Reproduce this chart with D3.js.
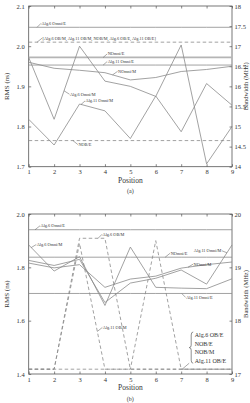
<!DOCTYPE html>
<html lang="en">
<head>
<meta charset="UTF-8">
<title>RMS and bandwidth by position</title>
<script src="https://d3js.org/d3.v7.min.js"></script>
<style>
  html, body { margin: 0; padding: 0; background: #fff; }
  svg { display: block; font-family: "Liberation Serif", "DejaVu Serif", serif; }
  .tick text { fill: #333; }
</style>
</head>
<body>
<div id="chart"></div>
<script>
// x axis
const positions = [1, 2, 3, 4, 5, 6, 7, 8, 9];

// panel (a), values in RMS (ns)
const aAlg6OmniE  = [2.047, 2.047, 2.047, 2.047, 2.047, 2.047, 2.047, 2.047, 2.047];
const aObGroup    = [2.010, 2.010, 2.010, 2.010, 2.010, 2.010, 2.010, 2.010, 2.010];
const aNOmniE     = [1.972, 1.972, 1.972, 1.972, 1.972, 1.972, 1.972, 1.972, 1.972];
const aAlg11OmniE = [1.953, 1.953, 1.953, 1.953, 1.953, 1.953, 1.953, 1.953, 1.953];
const aNOmniM     = [1.960, 1.945, 1.940, 1.934, 1.916, 1.922, 1.937, 1.942, 1.950];
const aAlg6OmniM  = [1.972, 1.818, 2.000, 1.913, 1.900, 1.875, 2.003, 1.707, 1.800];
const aAlg11OmniM = [1.818, 1.754, 1.856, 1.839, 1.770, 1.876, 1.787, 1.907, 1.853];
const aNOBE       = [1.765, 1.765, 1.765, 1.765, 1.765, 1.765, 1.765, 1.765, 1.765];

// panel (b), values in RMS (ns)
const bAlg6OmniE  = [1.941, 1.941, 1.941, 1.941, 1.941, 1.941, 1.941, 1.941, 1.941];
const bNOmniE     = [1.838, 1.838, 1.838, 1.838, 1.838, 1.838, 1.838, 1.838, 1.838];
const bAlg11OmniE = [1.702, 1.702, 1.702, 1.702, 1.702, 1.702, 1.702, 1.702, 1.702];
const bObGroup    = [1.418, 1.418, 1.418, 1.418, 1.418, 1.418, 1.418, 1.418, 1.418];
const bAlg6OBM    = [1.418, 1.418, 1.909, 1.909, 1.418, 1.418, 1.418, 1.418, 1.418];
const bAlg11OBM   = [1.418, 1.418, 1.890, 1.418, 1.418, 1.900, 1.418, 1.418, 1.418];
const bAlg6OmniM  = [1.884, 1.786, 1.840, 1.657, 1.876, 1.725, 1.722, 1.720, 1.757];
const bAlg11OmniM = [1.826, 1.807, 1.830, 1.668, 1.741, 1.759, 1.790, 1.737, 1.884];
const bNOmniM     = [1.816, 1.798, 1.810, 1.725, 1.756, 1.767, 1.797, 1.810, 1.820];

// tick values
const aLeftTicks  = [1.7, 1.8, 1.9, 2.0, 2.1];
const aRightTicks = [14, 14.5, 15, 15.5, 16, 16.5, 17, 17.5, 18];
const bLeftTicks  = [1.4, 1.6, 1.8, 2.0];
const bRightTicks = [17, 18, 19, 20];

// label texts
const aLabels = ["Alg.6 Omni/E", "[Alg.6 OB/M, Alg.11 OB/M, NOB/M, Alg.6 OB/E, Alg.11 OB/E]",
                 "NOmni/E", "Alg.11 Omni/E", "NOmni/M", "Alg.6 Omni/M", "Alg.11 Omni/M", "NOB/E"];
const bLabels = ["Alg.6 Omni/E", "Alg.6 OB/M", "Alg.6 Omni/M", "Alg.11 Omni/M",
                 "NOmni/E", "NOmni/M", "Alg.11 Omni/E", "Alg.11 OB/M"];
const bGroupLabels = ["Alg.6 OB/E", "NOB/E", "NOB/M", "Alg.11 OB/E"];

const width = 250, height = 403;
const lineColor = "#8a8a8a";
const textColor = "#333";

const svg = d3.select("#chart").append("svg")
    .attr("width", width)
    .attr("height", height);

const x = d3.scaleLinear().domain([1, 9]).range([28.7, 232]);

// value of a series between two positions
function interp(vals, p) {
    const i = Math.min(Math.floor(p) - 1, vals.length - 2);
    const t = p - (i + 1);
    return vals[i] + (vals[i + 1] - vals[i]) * t;
}

const panels = [
    {
        top: 6, bottom: 166.7, left: [1.7, 2.1], right: [14, 18],
        leftTicks: aLeftTicks, rightTicks: aRightTicks, tag: "(a)",
        series: [
            { v: aAlg6OmniE }, { v: aObGroup, dash: true }, { v: aNOmniE, w: 1.7, c: "#b5b5b5" },
            { v: aAlg11OmniE }, { v: aNOmniM }, { v: aAlg6OmniM }, { v: aAlg11OmniM },
            { v: aNOBE, dash: true }
        ],
        notes: [
            { t: aLabels[0], v: aAlg6OmniE, p: 1.33, dx: 4, dy: -4 },
            { t: aLabels[1], v: aObGroup, p: 1.33, dx: 5, dy: -4 },
            { t: aLabels[2], v: aNOmniE, p: 3.93, dx: 4, dy: -3.5 },
            { t: aLabels[3], v: aAlg11OmniE, p: 3.93, dx: 4, dy: -3.5 },
            { t: aLabels[4], v: aNOmniM, p: 4.3, dx: 5, dy: -3.5 },
            { t: aLabels[5], v: aAlg6OmniM, p: 2.39, dx: 5.5, dy: 3.5 },
            { t: aLabels[6], v: aAlg11OmniM, p: 3.06, dx: 4, dy: -3.5 },
            { t: aLabels[7], v: aNOBE, p: 2.74, dx: 5, dy: 4 }
        ]
    },
    {
        top: 214, bottom: 374, left: [1.4, 2.0], right: [17, 20],
        leftTicks: bLeftTicks, rightTicks: bRightTicks, tag: "(b)",
        series: [
            { v: bAlg6OmniE }, { v: bNOmniE }, { v: bAlg11OmniE },
            { v: bObGroup, dash: true }, { v: bAlg6OBM, dash: true }, { v: bAlg11OBM, dash: true },
            { v: bAlg6OmniM }, { v: bAlg11OmniM }, { v: bNOmniM }
        ],
        notes: [
            { t: bLabels[0], v: bAlg6OmniE, p: 1.25, dx: 5, dy: -4 },
            { t: bLabels[1], v: bAlg6OBM, p: 3.73, dx: 4, dy: -4 },
            { t: bLabels[2], v: bAlg6OmniM, p: 1.1, dx: 5, dy: -3 },
            { t: bLabels[3], v: bAlg11OmniM, p: 8.8, dx: -5, dy: -2, end: true },
            { t: bLabels[4], v: bNOmniE, p: 6.37, dx: 5, dy: -4 },
            { t: bLabels[5], v: bNOmniM, p: 7.27, dx: 5, dy: -3 },
            { t: bLabels[6], v: bAlg11OmniE, p: 7.02, dx: 4, dy: 4 },
            { t: bLabels[7], v: bAlg11OBM, p: 3.7, dx: 5, dy: -4 }
        ]
    }
];

panels.forEach(pn => {
    const y = d3.scaleLinear().domain(pn.left).range([pn.bottom, pn.top]);
    const y2 = d3.scaleLinear().domain(pn.right).range([pn.bottom, pn.top]);
    const g = svg.append("g");

    // axes, ticks pointing inside the box
    g.append("g")
        .attr("transform", `translate(${x.range()[0]},0)`)
        .call(d3.axisLeft(y).tickValues(pn.leftTicks).tickFormat(d3.format(".1f")).tickSize(-2.5).tickPadding(4));
    g.append("g")
        .attr("transform", `translate(${x.range()[1]},0)`)
        .call(d3.axisRight(y2).tickValues(pn.rightTicks).tickFormat(d3.format("~g")).tickSize(-2.5).tickPadding(2.5));
    g.append("g")
        .attr("transform", `translate(0,${pn.bottom})`)
        .call(d3.axisBottom(x).tickValues(positions).tickFormat(d3.format("d")).tickSize(-2.5).tickPadding(3));
    g.append("g")
        .attr("transform", `translate(0,${pn.top})`)
        .call(d3.axisTop(x).tickValues(positions).tickFormat("").tickSize(-2.5));

    g.selectAll(".domain").remove();
    g.selectAll(".tick line").attr("stroke", "#555").attr("stroke-width", 0.7);
    g.selectAll(".tick text").attr("font-size", 6.5).attr("font-family", "Liberation Serif");

    g.append("rect")
        .attr("x", x.range()[0])
        .attr("y", pn.top)
        .attr("width", x.range()[1] - x.range()[0])
        .attr("height", pn.bottom - pn.top)
        .attr("fill", "none")
        .attr("stroke", "#555")
        .attr("stroke-width", 0.8);

    const line = d3.line()
        .x((d, i) => x(positions[i]))
        .y(d => y(d));

    g.selectAll("path.series")
        .data(pn.series)
        .enter()
        .append("path")
        .attr("class", "series")
        .attr("d", d => line(d.v))
        .attr("fill", "none")
        .attr("stroke", d => d.c || lineColor)
        .attr("stroke-width", d => d.w || 0.8)
        .attr("stroke-dasharray", d => d.dash ? "3.5,2.5" : null);

    // labels with short leader lines
    pn.notes.forEach(n => {
        const ax = x(n.p), ay = y(interp(n.v, n.p));
        g.append("line")
            .attr("x1", ax).attr("y1", ay)
            .attr("x2", ax + n.dx).attr("y2", ay + n.dy)
            .attr("stroke", "#555")
            .attr("stroke-width", 0.5);
        g.append("text")
            .attr("x", ax + n.dx + (n.end ? -0.5 : 0.5))
            .attr("y", ay + n.dy + 1.5)
            .attr("text-anchor", n.end ? "end" : "start")
            .attr("font-size", 4.3)
            .attr("fill", textColor)
            .text(n.t);
    });

    // axis titles
    const mid = (pn.top + pn.bottom) / 2;
    g.append("text")
        .attr("transform", `translate(9,${mid}) rotate(-90)`)
        .attr("text-anchor", "middle")
        .attr("font-size", 7)
        .attr("fill", textColor)
        .text("RMS (ns)");
    g.append("text")
        .attr("transform", `translate(248,${mid}) rotate(-90)`)
        .attr("text-anchor", "middle")
        .attr("font-size", 6.5)
        .attr("fill", textColor)
        .text("Bandwidth (MHz)");
    g.append("text")
        .attr("x", (x.range()[0] + x.range()[1]) / 2)
        .attr("y", pn.bottom + 16)
        .attr("text-anchor", "middle")
        .attr("font-size", 7.5)
        .attr("fill", textColor)
        .text("Position");
    g.append("text")
        .attr("x", (x.range()[0] + x.range()[1]) / 2)
        .attr("y", pn.bottom + 26.5)
        .attr("text-anchor", "middle")
        .attr("font-size", 6)
        .attr("fill", textColor)
        .text(pn.tag);
});

// grouped label for the overlapping dashed lines in (b)
const yb = d3.scaleLinear().domain([1.4, 2.0]).range([374, 214]);
const gx = x(7.04), gy = yb(bObGroup[6]);
svg.append("line")
    .attr("x1", gx).attr("y1", gy)
    .attr("x2", gx + 7).attr("y2", gy - 6)
    .attr("stroke", "#555")
    .attr("stroke-width", 0.5);
const bx = gx + 9, bTop = 332, bBot = gy - 6, bMid = (bTop + bBot) / 2;
svg.append("path")
    .attr("d", `M${bx + 2},${bTop} Q${bx},${bTop} ${bx},${bTop + 3} L${bx},${bMid - 2.5} Q${bx},${bMid} ${bx - 2},${bMid}` +
               ` Q${bx},${bMid} ${bx},${bMid + 2.5} L${bx},${bBot - 3} Q${bx},${bBot} ${bx + 2},${bBot}`)
    .attr("fill", "none")
    .attr("stroke", "#444")
    .attr("stroke-width", 0.6);
svg.selectAll("text.group")
    .data(bGroupLabels)
    .enter()
    .append("text")
    .attr("class", "group")
    .attr("x", bx + 3.5)
    .attr("y", (d, i) => bTop + 5 + i * 8.5)
    .attr("font-size", 6)
    .attr("fill", textColor)
    .text(d => d);
</script>
</body>
</html>
